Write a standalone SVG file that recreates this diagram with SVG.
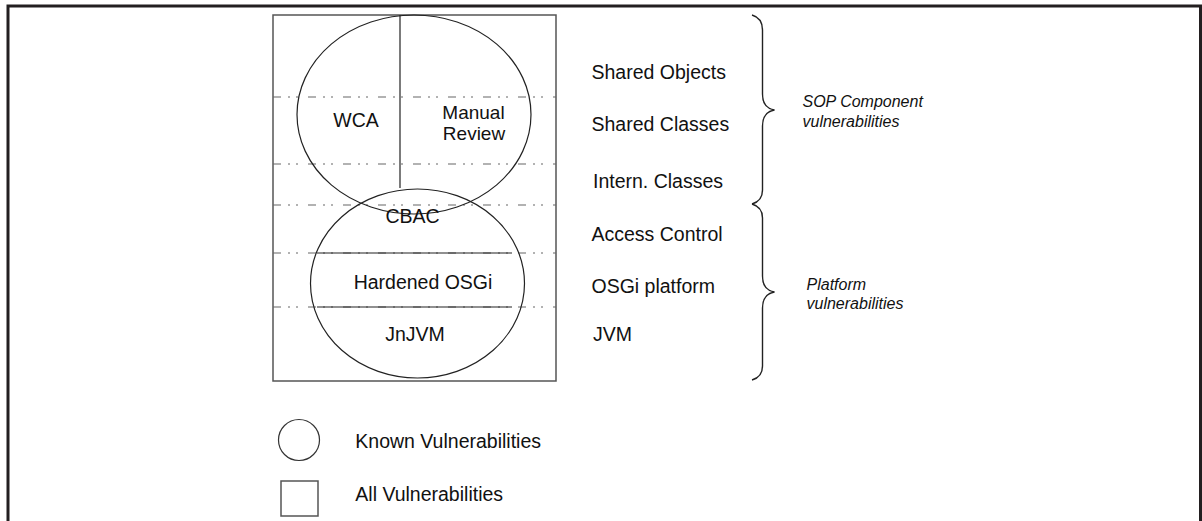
<svg xmlns="http://www.w3.org/2000/svg" width="1202" height="521" viewBox="0 0 1202 521">
<style>
.t{font-family:"Liberation Sans",Arial,sans-serif;font-size:19.5px;fill:#111}
.s{font-size:19px}
.i{font-family:"Liberation Sans",Arial,sans-serif;font-size:16px;font-style:italic;fill:#111}
.dd{stroke:#666;stroke-width:1.2;stroke-dasharray:8,7,2,6,2,10;fill:none}
.ln{stroke:#222;stroke-width:1.2;fill:none}
.br{stroke:#222;stroke-width:1.4;fill:none}
</style>
<rect width="1202" height="521" fill="#fff"/>
<path d="M8,521 V6 H1200.5 V521" fill="none" stroke="#231f20" stroke-width="3"/>
<g id="all-vulnerabilities">
<rect x="273" y="15" width="283" height="366" fill="none" stroke="#555" stroke-width="1.5"/>
</g>
<g id="layers">
<line class="dd" x1="273" y1="97" x2="556" y2="97"/>
<line class="dd" x1="273" y1="164" x2="556" y2="164"/>
<line class="dd" x1="273" y1="205" x2="556" y2="205"/>
<line class="dd" x1="273" y1="253" x2="556" y2="253"/>
<line class="dd" x1="273" y1="307" x2="556" y2="307"/>
</g>
<g id="top-ellipse">
<ellipse class="ln" cx="414" cy="114.5" rx="117" ry="99.5"/>
<line class="ln" x1="400" y1="15" x2="400" y2="188"/>
<text class="t" x="356" y="126.7" text-anchor="middle">WCA</text>
<text class="t s" x="473.5" y="118.5" text-anchor="middle">Manual</text>
<text class="t s" x="474" y="139.5" text-anchor="middle">Review</text>
</g>
<g id="bottom-ellipse">
<ellipse class="ln" cx="417.5" cy="283.5" rx="107" ry="94.5"/>
<line class="ln" x1="317" y1="253" x2="512" y2="253"/>
<line class="ln" x1="317" y1="307" x2="512" y2="307"/>
<text class="t" x="412.5" y="223.3" text-anchor="middle">CBAC</text>
<text class="t" x="423" y="289.3" text-anchor="middle">Hardened OSGi</text>
<text class="t" x="415" y="340.7" text-anchor="middle">JnJVM</text>
</g>
<g id="layer-labels">
<text class="t" x="591.5" y="79">Shared Objects</text>
<text class="t" x="591.5" y="131">Shared Classes</text>
<text class="t" x="593" y="188">Intern. Classes</text>
<text class="t" x="591.5" y="240.7">Access Control</text>
<text class="t" x="591.5" y="292.7">OSGi platform</text>
<text class="t" x="593" y="341">JVM</text>
</g>
<g id="connectors">
<path class="br" d="M752,15 Q762.5,18 762.5,30 V94 Q762.5,108 774.5,110 Q762.5,112 762.5,126 V190 Q762.5,201 752,204"/>
<path class="br" d="M752,204 Q762.5,207 762.5,218 V276 Q762.5,290 774.5,292 Q762.5,294 762.5,308 V366 Q762.5,377 752,380"/>
</g>
<g id="group-labels">
<text class="i" x="802.5" y="107">SOP Component</text>
<text class="i" x="802.5" y="126.5">vulnerabilities</text>
<text class="i" x="806.5" y="290">Platform</text>
<text class="i" x="806.5" y="309">vulnerabilities</text>
</g>
<g id="legend">
<circle cx="299" cy="440" r="20.5" fill="none" stroke="#333" stroke-width="1.2"/>
<text class="t" x="355.3" y="448.3">Known Vulnerabilities</text>
<rect x="281" y="481" width="37" height="35" fill="none" stroke="#555" stroke-width="1.5"/>
<text class="t" x="355.3" y="501">All Vulnerabilities</text>
</g>
</svg>
